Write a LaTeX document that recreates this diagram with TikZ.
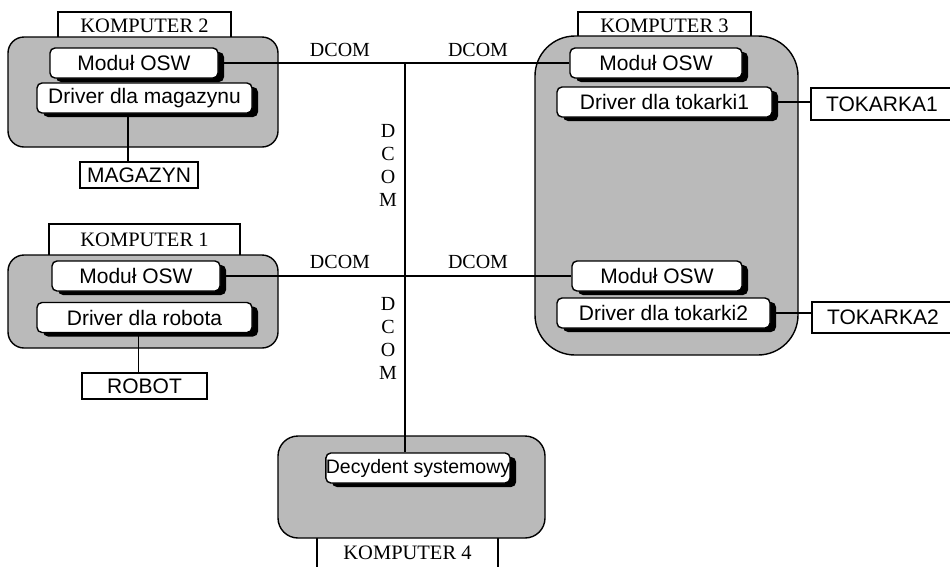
\documentclass[tikz,border=0pt]{standalone}
\usepackage{fontspec}
\setmainfont{Liberation Serif}
\setsansfont{Liberation Sans}
\usetikzlibrary{shadows}
\tikzset{
  lbl/.style={draw, line width=1.2pt, fill=white, inner sep=0pt,
    font=\fontsize{20.5}{24}\selectfont},
  host/.style={draw, line width=1.4pt, fill=black!27},
  unit/.style={draw, line width=1.4pt, fill=white, rounded corners=5pt,
    inner sep=0pt, minimum height=30pt,
    font=\sffamily\fontsize{21}{24}\selectfont,
    drop shadow={shadow xshift=6pt, shadow yshift=-4pt, fill=black, opacity=1}},
  dev/.style={draw, line width=1.1pt, fill=white, inner sep=0pt,
    font=\sffamily\fontsize{21}{24}\selectfont},
  bus/.style={line width=1.3pt},
  tag/.style={inner sep=0pt, align=center, font=\fontsize{20}{23}\selectfont}
}
\begin{document}
\begin{tikzpicture}[x=1pt, y=-1pt]
\useasboundingbox (0,0) rectangle (950,566);
\clip (0,0) rectangle (950,566);
\fill[white] (0,0) rectangle (950,566);

% computer name plates (partly hidden by the hosts)
\node[lbl, minimum width=173pt, minimum height=28pt] (lab2) at (144.5,26) {KOMPUTER 2};
\node[lbl, minimum width=191pt, minimum height=32pt] (lab1) at (144.5,240) {KOMPUTER 1};
\node[lbl, minimum width=173pt, minimum height=28pt] (lab3) at (664.5,26) {KOMPUTER 3};
\node[lbl, minimum width=181pt, minimum height=48pt] (lab4) at (407.5,553) {KOMPUTER 4};

% hosts
\draw[host, rounded corners=16pt] (8,37) rectangle (278,147);
\draw[host, rounded corners=16pt] (8,255) rectangle (278,348);
\draw[host, rounded corners=40pt] (535,36) rectangle (798,355);
\draw[host, rounded corners=20pt] (278,436) rectangle (545,538);

% software modules
\node[unit, minimum width=168pt] (m2) at (134,63) {Moduł OSW};
\node[unit, minimum width=215pt] (d2) at (144.5,98) {Driver dla magazynu};
\node[unit, minimum width=168pt] (m1) at (136,276) {Moduł OSW};
\node[unit, minimum width=215pt] (d1) at (144.5,317.5) {Driver dla robota};
\node[unit, minimum width=172pt] (m3a) at (656,63) {Moduł OSW};
\node[unit, minimum width=215pt] (d3a) at (664.5,102) {Driver dla tokarki1};
\node[unit, minimum width=170pt] (m3b) at (657,276) {Moduł OSW};
\node[unit, minimum width=213pt] (d3b) at (663.5,313) {Driver dla tokarki2};
\node[unit, minimum width=180pt, font=\sffamily\fontsize{19.5}{22}\selectfont] (dec) at (418,468) {Decydent systemowy};

% devices
\node[dev, minimum width=118pt, minimum height=26pt] (mag) at (139,175) {MAGAZYN};
\node[dev, minimum width=125pt, minimum height=26pt] (rob) at (144.5,386) {ROBOT};
\node[dev, minimum width=142pt, minimum height=32pt] (tok1) at (882,104) {TOKARKA1};
\node[dev, minimum width=142pt, minimum height=31pt] (tok2) at (883,317.5) {TOKARKA2};

% DCOM network
\coordinate (jt) at (405,63);
\draw[bus] (m2.east) -- (m3a.west);
\draw[bus] (m1.east) -- (m3b.west);
\draw[bus] (jt) -- (jt |- dec.north);

% device links
\draw[bus] ([xshift=-11pt]mag.north) -- ([xshift=-11pt]mag.north |- d2.south);
\draw[bus] ([xshift=-6pt]rob.north) -- ([xshift=-6pt]rob.north |- d1.south);
\draw[bus] (d3a.east) -- (d3a.east -| tok1.west);
\draw[bus] (d3b.east) -- (d3b.east -| tok2.west);

% protocol labels
\node[tag] (t1) at (340,50) {DCOM};
\node[tag] (t2) at (478,50) {DCOM};
\node[tag] (t3) at (340,262) {DCOM};
\node[tag] (t4) at (478,262) {DCOM};
\node[tag] (t5) at (388,165.5) {D\\C\\O\\M};
\node[tag] (t6) at (388,338) {D\\C\\O\\M};
\end{tikzpicture}
\end{document}
